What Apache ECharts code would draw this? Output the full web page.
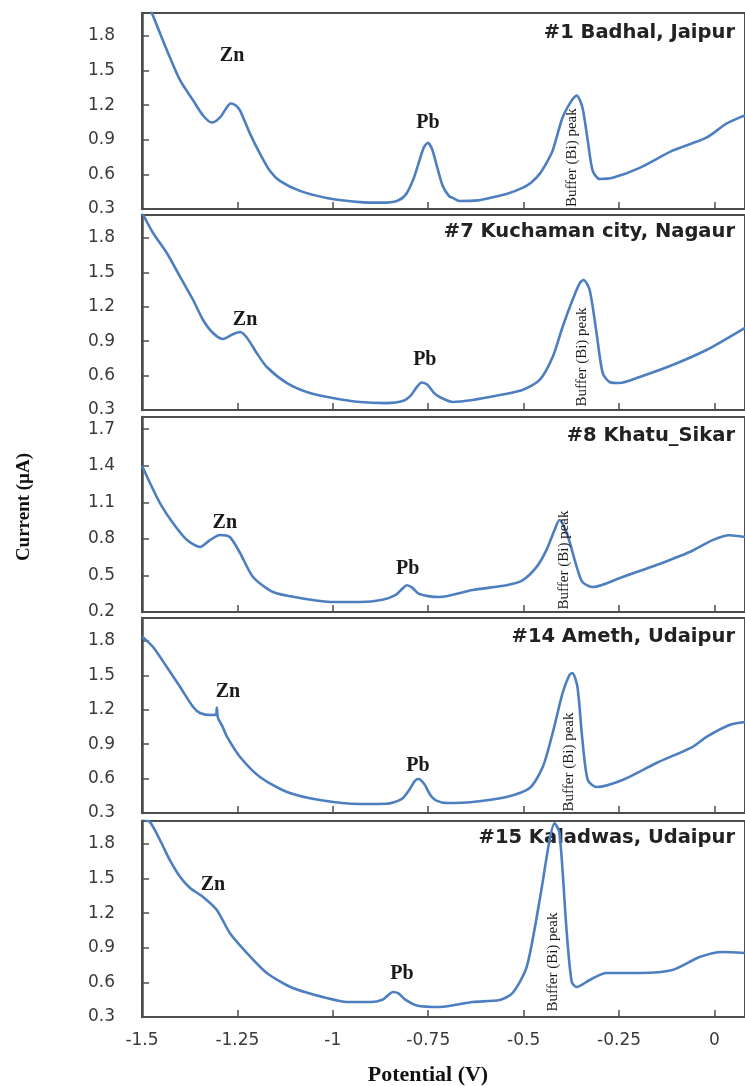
<!DOCTYPE html>
<html>
<head>
<meta charset="utf-8">
<script src="https://cdn.jsdelivr.net/npm/echarts@6/dist/echarts.min.js"></script>
<style>
  html, body { margin: 0; padding: 0; background: #fff; }
  #chart { width: 745px; height: 1086px; }
</style>
</head>
<body>
<div id="chart"></div>
<script>
// ---------- DATA ----------
const sampleNames = ['#1 Badhal, Jaipur', '#7 Kuchaman city, Nagaur', '#8 Khatu_Sikar', '#14 Ameth, Udaipur', '#15 Kaladwas, Udaipur'];

const xTicks = [-1.5, -1.25, -1, -0.75, -0.5, -0.25, 0];
const yTicksA = [0.3, 0.6, 0.9, 1.2, 1.5, 1.8];
const yTicksB = [0.2, 0.5, 0.8, 1.1, 1.4, 1.7];

// #1 Badhal, Jaipur
const p1_potential = [-1.50, -1.474, -1.453, -1.427, -1.40, -1.366, -1.340, -1.317, -1.296, -1.280, -1.268, -1.255, -1.243, -1.217, -1.191, -1.165, -1.139, -1.086, -1.016, -0.929, -0.87, -0.832, -0.81, -0.79, -0.775, -0.762, -0.751, -0.740, -0.728, -0.712, -0.695, -0.686, -0.668, -0.62, -0.589, -0.545, -0.503, -0.480, -0.458, -0.440, -0.424, -0.398, -0.374, -0.361, -0.346, -0.332, -0.319, -0.301, -0.267, -0.196, -0.110, -0.021, 0.031, 0.065, 0.08];
const p1_current   = [2.22, 2.00, 1.826, 1.616, 1.416, 1.242, 1.111, 1.05, 1.093, 1.17, 1.215, 1.20, 1.154, 0.954, 0.78, 0.631, 0.544, 0.457, 0.396, 0.36, 0.355, 0.37, 0.42, 0.55, 0.70, 0.83, 0.875, 0.82, 0.68, 0.50, 0.41, 0.396, 0.37, 0.375, 0.396, 0.43, 0.483, 0.53, 0.605, 0.70, 0.806, 1.093, 1.242, 1.285, 1.18, 0.893, 0.631, 0.56, 0.57, 0.657, 0.806, 0.919, 1.04, 1.093, 1.11];

// #7 Kuchaman city, Nagaur
const p2_potential = [-1.50, -1.471, -1.435, -1.40, -1.366, -1.340, -1.314, -1.288, -1.262, -1.243, -1.225, -1.20, -1.173, -1.120, -1.060, -1.0, -0.929, -0.86, -0.815, -0.795, -0.780, -0.767, -0.752, -0.735, -0.720, -0.686, -0.634, -0.563, -0.503, -0.458, -0.424, -0.398, -0.372, -0.353, -0.343, -0.327, -0.309, -0.293, -0.275, -0.249, -0.196, -0.110, -0.021, 0.039, 0.08];
const p2_current   = [2.02, 1.843, 1.669, 1.46, 1.259, 1.085, 0.971, 0.919, 0.96, 0.98, 0.93, 0.80, 0.675, 0.535, 0.448, 0.405, 0.37, 0.36, 0.38, 0.43, 0.50, 0.54, 0.52, 0.45, 0.413, 0.37, 0.387, 0.43, 0.474, 0.562, 0.762, 1.024, 1.259, 1.407, 1.433, 1.346, 0.971, 0.623, 0.544, 0.535, 0.588, 0.692, 0.823, 0.936, 1.015];

// #8 Khatu_Sikar
const p3_potential = [-1.50, -1.479, -1.453, -1.419, -1.382, -1.348, -1.322, -1.296, -1.270, -1.243, -1.209, -1.157, -1.086, -1.0, -0.929, -0.87, -0.835, -0.818, -0.806, -0.792, -0.775, -0.75, -0.720, -0.634, -0.545, -0.503, -0.466, -0.440, -0.419, -0.406, -0.387, -0.361, -0.346, -0.319, -0.241, -0.152, -0.065, -0.005, 0.039, 0.08];
const p3_current   = [1.40, 1.258, 1.094, 0.93, 0.79, 0.733, 0.79, 0.832, 0.815, 0.684, 0.487, 0.364, 0.315, 0.282, 0.282, 0.30, 0.34, 0.39, 0.42, 0.40, 0.35, 0.33, 0.323, 0.38, 0.42, 0.46, 0.57, 0.71, 0.873, 0.955, 0.85, 0.57, 0.446, 0.405, 0.487, 0.585, 0.692, 0.79, 0.83, 0.815];

// #14 Ameth, Udaipur
const p4_potential = [-1.50, -1.471, -1.435, -1.40, -1.366, -1.348, -1.318, -1.306, -1.304, -1.301, -1.290, -1.277, -1.243, -1.191, -1.120, -1.034, -0.929, -0.86, -0.82, -0.80, -0.785, -0.775, -0.76, -0.745, -0.73, -0.70, -0.634, -0.545, -0.484, -0.450, -0.424, -0.398, -0.380, -0.372, -0.359, -0.346, -0.332, -0.309, -0.241, -0.152, -0.058, -0.021, 0.039, 0.08];
const p4_current   = [1.84, 1.747, 1.573, 1.398, 1.224, 1.172, 1.154, 1.16, 1.22, 1.13, 1.06, 0.963, 0.788, 0.614, 0.483, 0.413, 0.378, 0.38, 0.42, 0.50, 0.58, 0.596, 0.55, 0.46, 0.41, 0.387, 0.396, 0.44, 0.518, 0.70, 0.997, 1.346, 1.503, 1.52, 1.398, 0.936, 0.588, 0.527, 0.588, 0.736, 0.875, 0.963, 1.067, 1.093];

// #15 Kaladwas, Udaipur
const p5_potential = [-1.50, -1.479, -1.453, -1.427, -1.40, -1.374, -1.340, -1.304, -1.270, -1.225, -1.173, -1.105, -1.016, -0.963, -0.90, -0.87, -0.855, -0.843, -0.828, -0.81, -0.78, -0.720, -0.634, -0.563, -0.529, -0.492, -0.458, -0.432, -0.419, -0.406, -0.387, -0.374, -0.361, -0.327, -0.283, -0.196, -0.110, -0.039, 0.021, 0.079];
const p5_current   = [2.02, 1.99, 1.835, 1.66, 1.514, 1.419, 1.341, 1.228, 1.029, 0.855, 0.682, 0.552, 0.465, 0.43, 0.43, 0.45, 0.49, 0.517, 0.505, 0.45, 0.40, 0.387, 0.43, 0.447, 0.508, 0.734, 1.315, 1.835, 1.98, 1.896, 1.029, 0.604, 0.56, 0.621, 0.682, 0.682, 0.708, 0.82, 0.864, 0.855];

// annotation anchor points (potential, current) per panel: Zn, Pb, Buffer (Bi) peak
const zn_at  = [[-1.264, 1.625], [-1.230, 1.085], [-1.283, 0.930], [-1.275, 1.355], [-1.314, 1.445]];
const pb_at  = [[-0.751, 1.05], [-0.759, 0.736], [-0.804, 0.553], [-0.777, 0.71], [-0.819, 0.673]];
const bi_at  = [[-0.372, 0.745], [-0.346, 0.762], [-0.393, 0.627], [-0.380, 0.745], [-0.424, 0.777]];

const yRanges = [[0.3, 2.0], [0.3, 2.0], [0.2, 1.8], [0.3, 2.0], [0.3, 2.0]];
const yTickSets = [yTicksA, yTicksA, yTicksB, yTicksA, yTicksA];

// ---------- LAYOUT / STYLE ----------
const potentials = [p1_potential, p2_potential, p3_potential, p4_potential, p5_potential];
const currents = [p1_current, p2_current, p3_current, p4_current, p5_current];
const gridTops = [13, 215, 417, 618, 821];
const gridHeights = [196, 195, 195, 195, 196];
const titleY = [33, 232, 436, 637, 838];
const frameColor = '#4d4d4d';
const lineColor = '#4d7fc0';
const labelColor = '#3a3a3a';

const grids = [], xAxes = [], yAxes = [], series = [], graphics = [];

for (let i = 0; i < 5; i++) {
  grids.push({
    left: 142, top: gridTops[i], width: 604, height: gridHeights[i],
    show: true, borderColor: frameColor, borderWidth: 2, backgroundColor: 'transparent'
  });
  xAxes.push({
    gridIndex: i, type: 'value', min: -1.5, max: 0.08,
    axisLine: { show: true, onZero: false, lineStyle: { color: frameColor, width: 2 } },
    axisTick: { show: true, inside: true, length: 7, customValues: xTicks, lineStyle: { color: frameColor, width: 1.5 } },
    axisLabel: {
      show: i === 4, customValues: xTicks, margin: 15,
      fontFamily: 'DejaVu Sans', fontSize: 17, color: labelColor,
      formatter: v => String(v)
    },
    splitLine: { show: false }
  });
  yAxes.push({
    gridIndex: i, type: 'value', min: yRanges[i][0], max: yRanges[i][1],
    axisLine: { show: true, onZero: false, lineStyle: { color: frameColor, width: 2.5 } },
    axisTick: { show: true, inside: true, length: 7, customValues: yTickSets[i], lineStyle: { color: frameColor, width: 1.5 } },
    axisLabel: {
      show: true, customValues: yTickSets[i], margin: 27,
      fontFamily: 'DejaVu Sans', fontSize: 17, color: labelColor,
      formatter: v => v.toFixed(1)
    },
    splitLine: { show: false }
  });

  const pts = potentials[i].map((x, k) => [x, currents[i][k]]);
  const ann = [
    { t: 'Zn', c: zn_at[i], rot: 0, font: { fontFamily: 'Liberation Serif', fontWeight: 'bold', fontSize: 20 } },
    { t: 'Pb', c: pb_at[i], rot: 0, font: { fontFamily: 'Liberation Serif', fontWeight: 'bold', fontSize: 20 } },
    { t: 'Buffer (Bi) peak', c: bi_at[i], rot: 90, font: { fontFamily: 'Liberation Serif', fontWeight: 'normal', fontSize: 15 } }
  ];
  series.push({
    type: 'line', xAxisIndex: i, yAxisIndex: i, data: pts,
    showSymbol: false, symbol: 'none', smooth: 0.25, clip: true,
    lineStyle: { color: lineColor, width: 2.6 },
    animation: false, silent: true,
    markPoint: {
      symbol: 'circle', symbolSize: 1, silent: true, animation: false,
      itemStyle: { color: 'rgba(0,0,0,0)' },
      data: ann.map(a => ({
        name: a.t, coord: a.c,
        label: Object.assign({ show: true, position: 'inside', formatter: a.t, rotate: a.rot, color: '#1a1a1a' }, a.font)
      }))
    }
  });

  graphics.push({
    type: 'text', x: 735, y: titleY[i], silent: true,
    style: {
      text: sampleNames[i], font: 'bold 19.5px "DejaVu Sans"', fill: '#222',
      align: 'right', verticalAlign: 'middle', textAlign: 'right', textVerticalAlign: 'middle'
    }
  });
}

graphics.push({
  type: 'text', x: 24, y: 507, rotation: Math.PI / 2, silent: true,
  style: {
    text: 'Current (µA)', font: 'bold 19px "Liberation Serif"', fill: '#111',
    align: 'center', verticalAlign: 'middle', textAlign: 'center', textVerticalAlign: 'middle'
  }
});
graphics.push({
  type: 'text', x: 428, y: 1075, silent: true,
  style: {
    text: 'Potential (V)', font: 'bold 22px "Liberation Serif"', fill: '#111',
    align: 'center', verticalAlign: 'middle', textAlign: 'center', textVerticalAlign: 'middle'
  }
});

const chart = echarts.init(document.getElementById('chart'), null, { renderer: 'canvas' });
chart.setOption({
  animation: false,
  backgroundColor: '#ffffff',
  grid: grids,
  xAxis: xAxes,
  yAxis: yAxes,
  series: series,
  graphic: graphics
});
</script>
</body>
</html>
